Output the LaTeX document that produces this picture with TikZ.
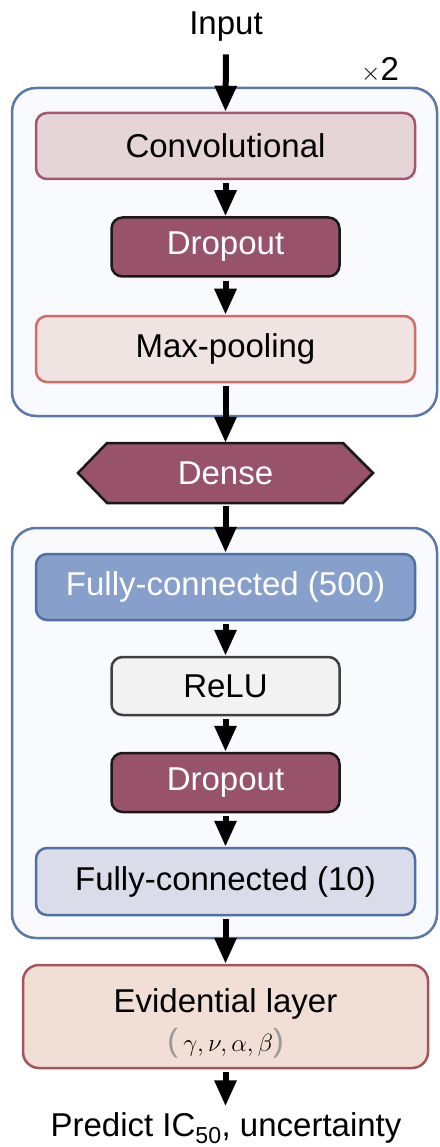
\documentclass[tikz,border=0pt]{standalone}
\usepackage{fontspec}
\setmainfont{Liberation Sans}
\usetikzlibrary{arrows.meta}
\definecolor{groupfill}{HTML}{F8FAFD}
\definecolor{groupline}{HTML}{5A78A8}
\definecolor{convfill}{HTML}{E6D5D8}
\definecolor{convline}{HTML}{A3566E}
\definecolor{dropfill}{HTML}{98526A}
\definecolor{poolfill}{HTML}{F0E4E2}
\definecolor{poolline}{HTML}{D36B6B}
\definecolor{fcafill}{HTML}{87A0CB}
\definecolor{fcline}{HTML}{4F6FA6}
\definecolor{relufill}{HTML}{F2F2F2}
\definecolor{reluline}{HTML}{404040}
\definecolor{fcbfill}{HTML}{DADDE9}
\definecolor{evifill}{HTML}{F1DED4}
\definecolor{eviline}{HTML}{A4545A}
\begin{document}
\begin{tikzpicture}[x=1pt,y=-1pt,
  font=\fontsize{33}{40}\selectfont,
  group/.style={draw=groupline,fill=groupfill,line width=2.5pt,rounded corners=24pt},
  layer/.style={rectangle,rounded corners=11pt,line width=2.5pt,inner sep=0pt,align=center},
  wide/.style={layer,minimum width=379pt,minimum height=66pt},
  narrow/.style={layer,minimum width=228pt,minimum height=59pt},
  dropbox/.style={narrow,fill=dropfill,draw=black!90,text=white},
  flow/.style={line width=6pt,-{Triangle[length=26pt,width=21pt]},shorten <=3pt},
]
\useasboundingbox (0,0) rectangle (439,1147);

% repeated convolution block and the fully-connected block
\draw[group] (12,88) rectangle (437,416);
\draw[group] (12,528) rectangle (437,938);

\node (input) at (226,27) {Input};
\node (times) at (380,70) {{\fontsize{28}{30}\selectfont$\times$}2};

\node[wide,fill=convfill,draw=convline] (conv) at (225.5,146) {Convolutional};
\node[dropbox] (drop1) at (225.5,247) {Dropout};
\node[wide,fill=poolfill,draw=poolline] (pool) at (225.5,349) {Max-pooling};

% hexagonal dense layer
\node[minimum width=295pt,minimum height=60pt,inner sep=0pt] (dense) at (225.5,473) {};
\draw[fill=dropfill,draw=black!90,line width=2.5pt,line join=miter]
  (78,473) -- (107,443) -- (343,443) -- (373,473) -- (343,503) -- (107,503) -- cycle;
\node[text=white] at (dense.center) {Dense};

\node[wide,fill=fcafill,draw=fcline,text=white] (fc500) at (225.5,587) {Fully-connected (500)};
\node[narrow,fill=relufill,draw=reluline,minimum height=58pt] (relu) at (225.5,686) {ReLU};
\node[dropbox] (drop2) at (225.5,782.5) {Dropout};
\node[wide,fill=fcbfill,draw=fcline,minimum height=67pt] (fc10) at (225.5,881.5) {Fully-connected (10)};

\node[layer,fill=evifill,draw=eviline,minimum width=405pt,minimum height=103pt,rounded corners=16pt] (evi) at (225.5,1016.5) {};
\node at (225.5,1004) {Evidential layer};
\node at (225.5,1043) {\fontsize{32}{34}\selectfont\textcolor{black!40}{(}\,$\gamma,\nu,\alpha,\beta$\textcolor{black!40}{)}};

\node (out) at (226,1128) {Predict IC\textsubscript{50}, uncertainty};

% data flow
\draw[flow] (input.south) ++(0,6) coordinate (in0) (in0) -- (conv.north);
\draw[flow] (conv.south) -- (drop1.north);
\draw[flow] (drop1.south) -- (pool.north);
\draw[flow] (pool.south) -- (dense.north);
\draw[flow] (dense.south) -- (fc500.north);
\draw[flow] (fc500.south) -- (relu.north);
\draw[flow] (relu.south) -- (drop2.north);
\draw[flow] (drop2.south) -- (fc10.north);
\draw[flow] (fc10.south) -- (evi.north);
\draw[flow,shorten >=0pt] (evi.south) -- ([yshift=-37pt]evi.south) coordinate (outtip);
\end{tikzpicture}
\end{document}
